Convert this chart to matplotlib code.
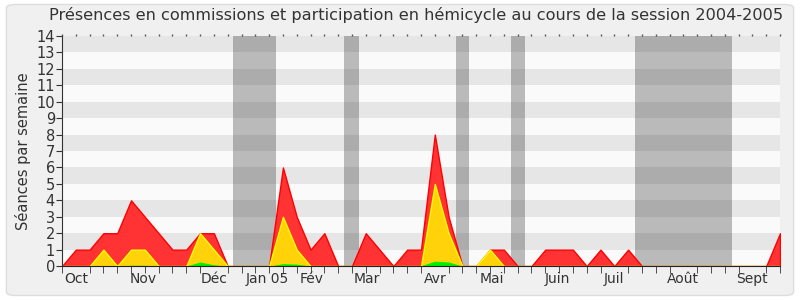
import matplotlib.pyplot as plt
import numpy as np
from matplotlib.patches import FancyBboxPatch

# seances par semaine (53 semaines, oct 2004 -> sept 2005)
total = [0, 1, 1, 2, 2, 4, 3, 2, 1, 1, 2, 2, 0, 0, 0, 0, 6, 3, 1, 2,
         0, 0, 2, 1, 0, 1, 1, 8, 3, 0, 0, 1, 1, 0, 0, 1, 1, 1, 0, 1,
         0, 1, 0, 0, 0, 0, 0, 0, 0, 0, 0, 0, 2]
commission = [0, 0, 0, 1, 0, 1, 1, 0, 0, 0, 2, 1, 0, 0, 0, 0, 3, 1, 0, 0,
              0, 0, 0, 0, 0, 0, 0, 5, 2, 0, 0, 1, 0, 0, 0, 0, 0, 0, 0, 0,
              0, 0, 0, 0, 0, 0, 0, 0, 0, 0, 0, 0, 0]
hemicycle = [0, 0, 0, 0, 0, 0.05, 0.05, 0, 0, 0, 0.25, 0.08, 0, 0, 0, 0, 0.15, 0.12, 0, 0,
             0, 0, 0, 0, 0, 0, 0.02, 0.3, 0.25, 0, 0, 0, 0, 0, 0, 0, 0, 0, 0, 0,
             0, 0, 0, 0, 0, 0, 0, 0, 0, 0, 0, 0, 0]

vacances = [(12.4, 15.5), (20.4, 21.5), (28.5, 29.5), (32.5, 33.5), (41.5, 48.5)]

mois = ['Oct', 'Nov', 'Déc', 'Jan 05', 'Fév', 'Mar', 'Avr', 'Mai', 'Juin', 'Juil', 'Août', 'Sept']
mois_pos = [1, 5.9, 11, 14.85, 18.1, 22.1, 27, 31.1, 35.9, 40, 45, 50]

semaines = np.arange(len(total))

fig = plt.figure(figsize=(8, 3), dpi=100, facecolor='white')
fond = FancyBboxPatch((0.008, 0.015), 0.984, 0.97, boxstyle='round,pad=0,rounding_size=0.012',
                      transform=fig.transFigure, facecolor='#f0f0f0', edgecolor='#dddddd', lw=1, zorder=-10)
fig.patches.append(fond)
ax = fig.add_axes([0.0775, 0.113, 0.8975, 0.767])
ax.set_facecolor('#fafafa')

for y in range(1, 14, 2):
    ax.axhspan(y, y + 1, color='#e6e6e6', lw=0, zorder=0)
for a, b in vacances:
    ax.axvspan(a, b, color='#282828', alpha=0.3, lw=0, zorder=1)

ax.fill_between(semaines, 0, total, color='#ff3333', edgecolor='#ff0000', lw=1, zorder=2)
ax.fill_between(semaines, 0, commission, color='#ffd20a', edgecolor='#ffff00', lw=1, zorder=2.1)
ax.fill_between(semaines, 0, hemicycle, color='#00ee00', lw=0, zorder=2.2)

ax.set_xlim(0, 52)
ax.set_ylim(0, 14)
ax.set_yticks(range(15))
ax.set_xticks(mois_pos)
ax.set_xticklabels(mois)
ax.set_xticks(semaines, minor=True)
ax.tick_params(axis='x', which='major', length=0, pad=4, labelsize=10, labelcolor='#333333')
ax.tick_params(axis='x', which='minor', length=5, color='#333333', direction='out')
ax.tick_params(axis='y', length=4, labelsize=10.5, labelcolor='#333333', pad=1, color='#333333')
for s in ['top', 'right']:
    ax.spines[s].set_visible(False)
ax.spines['left'].set_color('#333333')
ax.spines['bottom'].set_color('#222222')

# petits points en haut
haut = ax.secondary_xaxis('top')
haut.set_xticks(semaines)
haut.tick_params(length=1.5, width=1, color='#555555', labeltop=False)
haut.spines['top'].set_visible(False)

ax.set_ylabel('Séances par semaine', fontsize=10.5, color='#333333', labelpad=4)
fig.text(0.52, 0.95, 'Présences en commissions et participation en hémicycle au cours de la session 2004-2005',
         ha='center', va='center', fontsize=11.6, color='#333333')

fig.savefig('out.png', dpi=100, facecolor=fig.get_facecolor())
